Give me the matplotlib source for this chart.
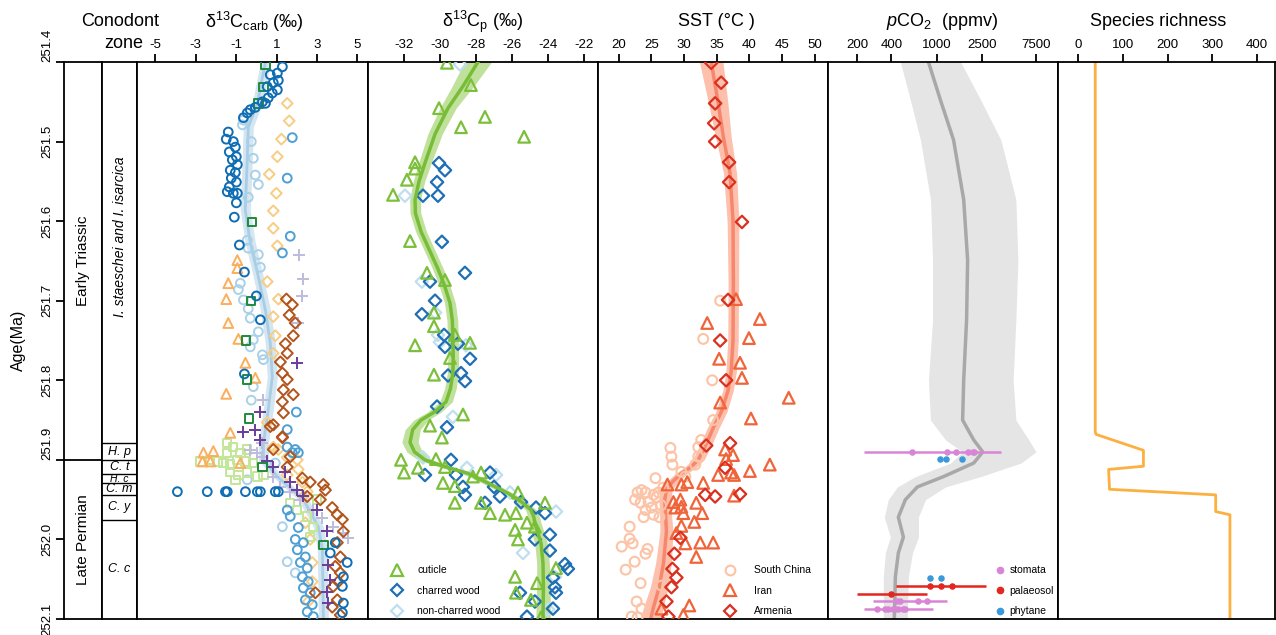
import numpy as np
import matplotlib.pyplot as plt
from matplotlib.lines import Line2D
from matplotlib.ticker import NullLocator

plt.rcParams['font.family'] = ['Liberation Sans', 'DejaVu Sans']
plt.rcParams['mathtext.fontset'] = 'custom'
plt.rcParams['mathtext.rm'] = 'Liberation Sans'
plt.rcParams['mathtext.it'] = 'Liberation Sans:italic'
plt.rcParams['axes.unicode_minus'] = False

# ---------------- data ----------------
age_ticks = [251.4, 251.5, 251.6, 251.7, 251.8, 251.9, 252.0, 252.1]

zone_bounds = [251.879, 251.9, 251.918, 251.929, 251.944, 251.975, 252.1]
zone_names = ['H. p', 'C. t', 'H. c', 'C. m', 'C. y', 'C. c']

# d13C carb
cb_dkblue_val = [1.29, 1.04, 0.69, 1.09, 0.84, 0.54, 1.04, 0.79, 0.59, 0.30, 0.45, -0.05, -0.30, -0.45, -0.64,
                 -1.39, -1.49, -1.14, -1.04, -1.34, -0.99, -1.19, -0.94, -1.29, -1.04, -1.24, -0.99, -1.34, -1.44,
                 -1.14, -0.94, -0.99, -1.09, -0.84, -0.59, 0.0, 0.20, -0.59,
                 -3.91, -2.43, -1.53, -1.44, -0.54, 0.05, 0.20, 0.94, 1.09,
                 4.50, 4.31, 4.26, 4.31, 4.26, 3.91, 3.66]
cb_dkblue_age = [251.406, 251.414, 251.416, 251.423, 251.426, 251.431, 251.435, 251.439, 251.445, 251.450, 251.452,
                 251.457, 251.460, 251.464, 251.470,
                 251.488, 251.497, 251.500, 251.507, 251.513, 251.519, 251.523, 251.529, 251.536, 251.539, 251.546,
                 251.551, 251.557, 251.563, 251.565, 251.565, 251.577, 251.595, 251.630, 251.664, 251.694, 251.724,
                 251.792,
                 251.940, 251.940, 251.940, 251.940, 251.940, 251.940, 251.940, 251.940, 251.940,
                 252.029, 252.047, 252.059, 252.080, 252.092, 252.004, 252.017]
cb_mdblue_val = [2.08, 1.93, 2.33, 2.03, 2.43, 2.18, 2.52, 2.28, 2.57, 2.33, 2.67, 2.43, 2.77, 2.52, 2.82, 1.68,
                 1.53, 1.53, 1.93, 2.08, 1.78, 1.98, 1.53, 1.78, 1.53, 1.68, 1.29]
cb_mdblue_age = [251.985, 252.000, 252.004, 252.013, 252.022, 252.029, 252.036, 252.047, 252.053, 252.061, 252.067,
                 252.076, 252.082, 252.091, 252.097, 251.971, 251.963, 251.884, 251.887, 251.891, 251.891, 251.840,
                 251.862, 251.495, 251.546, 251.619, 251.640]
cb_ltblue_val = [-0.64, -0.69, -0.25, -0.15, -0.05, 0.10, -0.40, -0.45, -0.40, 0.10, 0.20, -0.79, -0.89, -0.64,
                 -0.40, -0.30, 0.10, -0.15, -0.30, 0.30, 0.35, -0.15, -0.25, 1.29, 1.53, 1.93, 0.94, -0.45]
cb_ltblue_age = [251.473, 251.479, 251.500, 251.521, 251.542, 251.554, 251.570, 251.624, 251.634, 251.642, 251.658,
                 251.678, 251.686, 251.699, 251.710, 251.722, 251.739, 251.749, 251.758, 251.768, 251.774, 251.808,
                 251.825, 251.984, 252.028, 252.042, 251.904, 251.925]
cb_dkgreen_val = [0.45, 0.35, 0.10, -0.20, -0.25, -0.50, -0.45, -0.35, 3.32, 0.30]
cb_dkgreen_age = [251.403, 251.431, 251.452, 251.601, 251.700, 251.750, 251.799, 251.848, 252.007, 251.909]
cb_ltgreen_val = [-1.44, -1.14, -1.44, -0.79, -0.45, -2.77, -2.28, -1.93, -1.63, -1.29, -0.94, -0.54, -0.15, -1.29,
                  -0.89, -0.45, 0.05, -1.04, 0.35, 1.68, 2.03, 2.52, 2.82, 2.67, 3.02]
cb_ltgreen_age = [251.879, 251.884, 251.891, 251.891, 251.887, 251.902, 251.900, 251.902, 251.904, 251.906, 251.900,
                  251.902, 251.904, 251.915, 251.919, 251.916, 251.921, 251.925, 251.919, 251.954, 251.963, 251.971,
                  251.984, 251.997, 251.950]
cb_orange_val = [-0.94, -0.94, -1.39, -1.49, -1.39, -0.89, -0.54, -0.05, -1.49, -1.29, -2.62, -2.13, -2.67, -2.28,
                 -0.79]
cb_orange_age = [251.649, 251.659, 251.678, 251.698, 251.728, 251.748, 251.778, 251.797, 251.817, 251.866, 251.891,
                 251.889, 251.902, 251.902, 251.904]
cb_ltorange_val = [1.53, 1.63, 1.24, 1.04, 0.64, 0.99, 0.84, 0.84, 1.04, 0.54, 1.09, 0.84, 0.94, 0.84, 0.54, 0.84,
                   1.09, 1.53, 2.03, 2.08, 1.53, 2.28, 2.52, 2.33, 2.43, 2.67, 2.77, 2.77, 2.57]
cb_ltorange_age = [251.452, 251.474, 251.497, 251.519, 251.541, 251.565, 251.587, 251.609, 251.631, 251.676, 251.698,
                   251.720, 251.744, 251.766, 251.853, 251.884, 251.887, 251.897, 251.900, 251.912, 251.919, 251.928,
                   251.940, 251.946, 251.979, 252.000, 252.029, 252.053, 252.078]
cb_brown_val = [1.49, 1.78, 1.63, 1.93, 1.83, 1.44, 1.53, 1.19, 1.29, 1.53, 1.34, 1.83, 1.29, 1.34, 0.84, 1.29, 0.69,
                1.29, 0.84, 1.68, 1.53, 2.28, 2.67, 3.32, 3.42, 2.52, 3.17, 3.76, 4.01, 4.26, 4.31, 4.01, 4.16, 3.91,
                4.16, 4.06, 3.81, 2.92, 4.01, 3.76, 4.16]
cb_brown_age = [251.698, 251.705, 251.718, 251.728, 251.744, 251.754, 251.766, 251.777, 251.791, 251.799, 251.812,
                251.818, 251.827, 251.841, 251.856, 251.871, 251.858, 251.872, 251.887, 251.896, 251.909, 251.923,
                251.928, 251.931, 251.938, 251.946, 251.950, 251.960, 251.969, 251.975, 251.990, 252.004, 252.022,
                252.034, 252.042, 252.053, 252.059, 252.067, 252.076, 252.085, 252.095]
cb_purple_val = [2.03, -0.64, 0.20, 0.20, -0.05, 0.54, 0.84, 1.44, 1.68, 2.03, 2.33, 3.02, 3.51, 3.56, 3.66, 3.51, 3.56]
cb_purple_age = [251.778, 251.865, 251.840, 251.875, 251.862, 251.902, 251.909, 251.915, 251.928, 251.938, 251.946,
                 251.963, 251.990, 252.032, 252.051, 252.066, 252.080]
cb_ltpurple_val = [2.13, 2.33, 2.28, 2.08, 0.35, 0.30, -0.30, 0.05, 0.30, 0.84, 1.19, 1.68, 2.18, 2.82, 3.27, 3.81,
                   4.55, 4.31]
cb_ltpurple_age = [251.642, 251.673, 251.694, 251.728, 251.825, 251.879, 251.887, 251.891, 251.897, 251.921, 251.934,
                   251.940, 251.950, 251.963, 251.973, 251.984, 251.998, 251.992]
cb_fit_age = [251.400, 251.452, 251.482, 251.523, 251.586, 251.627, 251.670, 251.712, 251.753, 251.796, 251.837,
              251.879, 251.900, 251.921, 251.950, 251.984, 252.013, 252.100]
cb_fit_val = [0.45, 0.05, -0.40, -0.45, -0.55, -0.30, 0.10, 0.45, 0.69, 0.79, 0.59, 0.35, 0.35, 1.04, 2.33, 3.07,
              3.27, 3.32]
cb_fit_err = [0.25] * 18

# d13C plant
cut_val = [-29.60, -28.27, -30.04, -27.49, -28.82, -25.32, -31.37, -31.37, -31.82, -32.59, -31.65, -30.71, -29.71,
           -30.32, -30.32, -29.16, -31.37, -28.32, -29.43, -30.32, -28.71, -30.54, -29.88, -32.15, -31.98, -31.21,
           -30.21, -29.71, -29.82, -29.16, -29.16, -28.16, -27.71, -27.71, -27.21, -26.38, -25.66, -25.77, -24.16,
           -25.16, -25.82, -25.66, -24.72, -23.55, -25.82, -25.77, -24.60, -24.94, -24.38]
cut_age = [251.401, 251.429, 251.458, 251.469, 251.482, 251.494, 251.526, 251.534, 251.548, 251.567, 251.625, 251.665,
           251.674, 251.715, 251.732, 251.743, 251.756, 251.753, 251.772, 251.793, 251.843, 251.857, 251.872, 251.900,
           251.916, 251.910, 251.899, 251.909, 251.929, 251.933, 251.954, 251.921, 251.916, 251.954, 251.967, 251.969,
           251.941, 251.967, 251.954, 251.979, 251.988, 252.000, 251.984, 252.036, 252.047, 252.067, 252.055, 252.076,
           252.098]
char_val = [-30.04, -29.71, -30.15, -30.93, -30.10, -29.88, -28.60, -30.54, -30.26, -30.99, -29.76, -29.71, -28.99,
            -28.32, -29.54, -28.82, -28.60, -30.15, -29.60, -29.38, -30.82, -29.10, -28.71, -28.60, -27.21, -26.99,
            -27.49, -26.66, -25.49, -24.66, -24.16, -23.89, -24.72, -23.89, -23.05, -22.89, -23.72, -23.61, -23.55,
            -25.55, -24.72, -23.72, -25.16]
char_age = [251.527, 251.536, 251.551, 251.568, 251.568, 251.626, 251.665, 251.676, 251.700, 251.717, 251.743, 251.758,
            251.754, 251.773, 251.794, 251.791, 251.801, 251.833, 251.859, 251.900, 251.919, 251.919, 251.934, 251.944,
            251.916, 251.934, 251.954, 251.946, 251.953, 251.960, 251.967, 251.994, 252.000, 252.014, 252.031, 252.037,
            252.048, 252.060, 252.067, 252.067, 252.078, 252.087, 252.097]
nonchar_val = [-28.88, -31.93, -30.99, -30.26, -30.10, -29.99, -28.54, -29.27, -30.93, -28.49, -26.88, -26.10, -25.49,
               -23.55, -25.38, -23.61, -23.99]
nonchar_age = [251.403, 251.568, 251.676, 251.715, 251.743, 251.752, 251.756, 251.846, 251.897, 251.910, 251.919,
               251.941, 251.954, 251.965, 252.017, 252.047, 252.088]
cp_fit_age = [251.400, 251.430, 251.458, 251.490, 251.527, 251.550, 251.573, 251.590, 251.613, 251.635, 251.660,
              251.680, 251.703, 251.725, 251.750, 251.770, 251.790, 251.810, 251.827, 251.840, 251.850, 251.862,
              251.878, 251.890, 251.900, 251.908, 251.917, 251.930, 251.942, 251.953, 251.963, 251.972, 251.980,
              251.992, 252.005, 252.030, 252.060, 252.100]
cp_fit_val = [-27.88, -28.70, -29.54, -30.25, -30.82, -31.15, -31.37, -31.35, -31.04, -30.60, -30.10, -29.75, -29.43,
              -29.30, -29.27, -29.25, -29.27, -29.40, -29.65, -30.30, -31.04, -31.50, -31.65, -31.40, -30.82, -29.80,
              -28.43, -27.25, -26.21, -25.45, -24.94, -24.78, -24.72, -24.55, -24.38, -24.27, -24.25, -24.27]
cp_fit_err = [0.75, 0.6, 0.45, 0.4, 0.35, 0.32, 0.3, 0.3, 0.3, 0.3, 0.3, 0.3, 0.3, 0.3, 0.3, 0.3, 0.3, 0.32, 0.35,
              0.38, 0.4, 0.42, 0.45, 0.43, 0.4, 0.38, 0.35, 0.32, 0.3, 0.3, 0.3, 0.32, 0.35, 0.35, 0.35, 0.35, 0.38,
              0.4]

# SST
arm_val = [34.16, 35.68, 34.76, 34.61, 34.76, 36.90, 36.90, 38.87, 36.74, 35.53, 36.44, 33.40, 37.05, 36.29, 33.24,
           34.76, 38.57, 29.44, 28.52, 28.22, 28.83, 28.07, 27.31, 27.61]
arm_age = [251.401, 251.426, 251.452, 251.477, 251.500, 251.526, 251.551, 251.601, 251.699, 251.750, 251.800, 251.882,
           251.879, 251.910, 251.944, 251.946, 251.943, 251.998, 252.018, 252.037, 252.048, 252.060, 252.078, 252.097]
iran_val = [37.96, 33.55, 41.61, 39.94, 35.37, 38.57, 38.87, 35.53, 46.03, 40.24, 36.29, 37.50, 36.44, 40.09, 43.13,
            35.22, 37.20, 37.66, 32.94, 30.50, 27.46, 29.59, 37.66, 29.44, 28.37, 29.59, 31.87, 29.89, 32.79, 28.68,
            31.57, 29.59, 28.83, 30.20, 32.48, 34.46, 31.87, 30.81, 29.89, 26.54]
iran_age = [251.698, 251.728, 251.723, 251.747, 251.773, 251.778, 251.797, 251.828, 251.822, 251.848, 251.887, 251.894,
            251.899, 251.914, 251.906, 251.919, 251.916, 251.919, 251.929, 251.928, 251.931, 251.931, 251.945, 251.950,
            251.953, 251.959, 251.954, 251.967, 251.967, 251.960, 251.978, 251.983, 251.992, 252.005, 252.004, 252.004,
            252.022, 252.083, 252.095, 252.087]
sc_val = [35.53, 32.94, 34.31, 34.46, 32.63, 32.18, 27.91, 28.07, 32.18, 31.72, 28.22, 29.59, 25.63, 30.20, 22.89,
          24.11, 25.33, 26.09, 23.35, 24.57, 24.11, 25.02, 23.81, 25.33, 26.24, 21.67, 21.67, 20.46, 22.13, 24.41,
          24.11, 22.44, 21.07, 23.35, 26.54, 22.74, 23.50, 21.98, 22.89, 23.50, 25.80, 22.50, 26.50, 26.80]
sc_age = [251.700, 251.748, 251.800, 251.850, 251.875, 251.884, 251.885, 251.896, 251.896, 251.906, 251.906, 251.915,
          251.923, 251.921, 251.941, 251.941, 251.944, 251.941, 251.954, 251.953, 251.963, 251.960, 251.972, 251.969,
          251.972, 251.984, 251.999, 252.009, 252.005, 252.012, 252.018, 252.028, 252.038, 252.055, 252.058, 252.078,
          252.087, 252.097, 252.098, 251.938, 251.947, 251.950, 251.957, 251.935]
sst_fit_age = [251.400, 251.450, 251.493, 251.540, 251.600, 251.680, 251.750, 251.790, 251.813, 251.840, 251.860,
               251.880, 251.900, 251.910, 251.917, 251.927, 251.937, 251.950, 251.966, 251.990, 252.030, 252.060,
               252.085, 252.100]
sst_fit_val = [34.16, 35.20, 36.00, 37.05, 37.50, 37.55, 37.50, 37.20, 36.74, 35.70, 34.46, 33.40, 32.18, 30.90,
               29.59, 28.30, 27.31, 27.05, 27.15, 27.31, 26.85, 26.20, 25.33, 24.90]
sst_fit_err = [1.8, 1.5, 1.2, 1.0, 0.9, 0.8, 0.8, 0.8, 0.8, 0.85, 0.9, 0.9, 0.9, 0.9, 0.9, 0.9, 0.9, 0.9, 0.9, 1.0,
               1.2, 1.35, 1.5, 1.6]

# pCO2
co2_age = [251.400, 251.448, 251.498, 251.573, 251.649, 251.724, 251.800, 251.850, 251.875, 251.890, 251.904,
           251.921, 251.934, 251.950, 251.972, 251.997, 252.017, 252.047, 252.100]
co2_mid = [849, 1084, 1413, 1735, 1879, 1840, 1735, 1698, 2127, 2555, 2127, 1154, 679, 532, 461, 511, 461, 434, 425]
co2_lo = [480, 589, 722, 885, 923, 923, 849, 885, 1202, 1698, 1330, 652, 452, 376, 347, 392, 354, 340, 340]
co2_hi = [1632, 2455, 3690, 5000, 5210, 5000, 4730, 5000, 6510, 7520, 5540, 2455, 1202, 800, 693, 693, 614, 565, 553]

stom_age = [251.890, 252.078, 252.088]
stom_lo = [231, 277, 231]
stom_hi = [3690, 1227, 923]
stom_pts = [[614, 1227, 1473, 1879, 2083, 2127],
            [452, 480, 693, 817],
            [301, 354, 376, 410, 434, 461, 502, 532]]
pal_age = [252.058, 252.068]
pal_lo = [443, 200]
pal_hi = [2716, 817]
pal_pts = [[885, 1106, 1358], [400]]
phy_age = [251.899, 251.899, 251.899, 252.048, 252.048]
phy_val = [1064, 1202, 1663, 885, 1106]

# species richness
rich_age = [251.4, 251.865, 251.868, 251.888, 251.908, 251.912, 251.937, 251.944, 251.965, 251.969, 252.1]
rich_val = [38, 38, 40, 146, 146, 68, 70, 308, 308, 340, 340]

# ---------------- layout ----------------
W, H = 1276, 635
TOP, BOT = 62, 619
fig = plt.figure(figsize=(W / 100, H / 100), dpi=100)


def add_col(x0, x1):
    ax = fig.add_axes([x0 / W, 1 - BOT / H, (x1 - x0) / W, (BOT - TOP) / H])
    ax.set_ylim(252.1, 251.4)
    ax.set_yticks([])
    for sp in ax.spines.values():
        sp.set_linewidth(1.3)
    return ax


def add_panel(x0, x1, xlim, ticks, labels=None):
    ax = add_col(x0, x1)
    ax.set_xlim(*xlim)
    ax.xaxis.tick_top()
    ax.set_xticks(ticks)
    if labels is not None:
        ax.set_xticklabels(labels)
    ax.xaxis.set_minor_locator(NullLocator())
    ax.tick_params(axis='x', direction='out', length=6, width=1.3, labelsize=9.5, pad=2)
    return ax


def hollow(ax, x, y, marker, color, s, lw=1.4, z=3):
    if marker == '+':
        ax.scatter(x, y, s=s, marker=marker, color=color, linewidths=lw, zorder=z)
    else:
        ax.scatter(x, y, s=s, marker=marker, facecolors='none', edgecolors=color, linewidths=lw, zorder=z)


def ftext(x, y, s, **kw):
    fig.text(x / W, 1 - y / H, s, ha='center', va='center', **kw)


# period column with age axis
ax_per = add_col(64, 102)
ax_per.set_xticks([])
ax_per.set_yticks(age_ticks)
ax_per.set_yticklabels([f'{a:.1f}' for a in age_ticks], rotation=90, fontsize=9.5, va='center')
ax_per.tick_params(axis='y', direction='out', length=6, width=1.3, pad=2)
for lab, a in zip(ax_per.get_yticklabels(), age_ticks):
    if a in (251.4, 251.9):
        lab.set_va('bottom')
ax_per.axhline(251.9, color='k', lw=1.3)
tr = ax_per.get_yaxis_transform()
ax_per.text(0.5, 251.65, 'Early Triassic', rotation=90, ha='center', va='center', fontsize=11, transform=tr)
ax_per.text(0.5, 252.0, 'Late Permian', rotation=90, ha='center', va='center', fontsize=11, transform=tr)

# conodont zone column
ax_zone = add_col(102, 137)
ax_zone.set_xticks([])
trz = ax_zone.get_yaxis_transform()
ax_zone.text(0.5, 251.62, 'I. staeschei and I. isarcica', rotation=90, ha='center', va='center', fontsize=10,
             style='italic', transform=trz)
for b in zone_bounds[:-1]:
    ax_zone.axhline(b, color='k', lw=1.0)
for i, name in enumerate(zone_names):
    mid = (zone_bounds[i] + zone_bounds[i + 1]) / 2
    fs = 7.5 if name == 'H. c' else 9
    ax_zone.text(0.5, mid, name, ha='center', va='center', fontsize=fs, style='italic', transform=trz)

# d13C carb panel
ax1 = add_panel(137, 368, (-5.91, 5.53), [-5, -3, -1, 1, 3, 5])
fa = np.array(cb_fit_age)
fv = np.array(cb_fit_val)
fe = np.array(cb_fit_err)
ax1.fill_betweenx(fa, fv - fe, fv + fe, color='#d3e6f2', lw=0, zorder=1)
ax1.plot(fv, fa, color='#a9cde4', lw=2, zorder=2)
hollow(ax1, cb_ltblue_val, cb_ltblue_age, 'o', '#a9d1e8', 40)
hollow(ax1, cb_ltorange_val, cb_ltorange_age, 'D', '#f7cd84', 30)
hollow(ax1, cb_ltgreen_val, cb_ltgreen_age, 's', '#c3e69a', 36)
hollow(ax1, cb_orange_val, cb_orange_age, '^', '#fbae5c', 50)
hollow(ax1, cb_ltpurple_val, cb_ltpurple_age, '+', '#bdbcdd', 80)
hollow(ax1, cb_mdblue_val, cb_mdblue_age, 'o', '#4d9fd5', 40)
hollow(ax1, cb_brown_val, cb_brown_age, 'D', '#b2541c', 32)
hollow(ax1, cb_purple_val, cb_purple_age, '+', '#6a3d9a', 80)
hollow(ax1, cb_dkgreen_val, cb_dkgreen_age, 's', '#1f8a3c', 36)
hollow(ax1, cb_dkblue_val, cb_dkblue_age, 'o', '#0f6db3', 40)

# d13C plant panel
ax2 = add_panel(368, 598, (-33.98, -21.22), [-32, -30, -28, -26, -24, -22])
fa = np.array(cp_fit_age)
fv = np.array(cp_fit_val)
fe = np.array(cp_fit_err)
ax2.fill_betweenx(fa, fv - fe, fv + fe, color='#c0e19b', lw=0, zorder=1)
hollow(ax2, nonchar_val, nonchar_age, 'D', '#bfdff0', 40, lw=1.6)
hollow(ax2, char_val, char_age, 'D', '#1f6fb5', 40, lw=1.6)
hollow(ax2, cut_val, cut_age, '^', '#7cbf3a', 70, lw=1.6)
ax2.plot(fv, fa, color='#78bd38', lw=2.5, zorder=4)
h2 = [Line2D([], [], ls='none', marker='^', ms=8.5, mfc='none', mec='#7cbf3a', mew=1.6, label='cuticle'),
      Line2D([], [], ls='none', marker='D', ms=6.5, mfc='none', mec='#1f6fb5', mew=1.6, label='charred wood'),
      Line2D([], [], ls='none', marker='D', ms=6.5, mfc='none', mec='#bfdff0', mew=1.6, label='non-charred wood')]
ax2.legend(handles=h2, loc='lower left', bbox_to_anchor=(0.105, 0.005), frameon=False, fontsize=7.5,
           handlelength=1.0, handletextpad=1.4, labelspacing=1.0, borderpad=0, borderaxespad=0)

# SST panel
ax3 = add_panel(598, 828, (16.83, 52.04), [20, 25, 30, 35, 40, 45, 50])
fa = np.array(sst_fit_age)
fv = np.array(sst_fit_val)
fe = np.array(sst_fit_err)
ax3.fill_betweenx(fa, fv - fe, fv + fe, color='#fcc0ac', lw=0, zorder=1)
hollow(ax3, sc_val, sc_age, 'o', '#fcc3a6', 50, lw=1.5)
ax3.plot(fv, fa, color='#f7876c', lw=2.5, zorder=2)
hollow(ax3, iran_val, iran_age, '^', '#f0643a', 70, lw=1.6)
hollow(ax3, arm_val, arm_age, 'D', '#d9301f', 40, lw=1.6)
h3 = [Line2D([], [], ls='none', marker='o', ms=7, mfc='none', mec='#fcc3a6', mew=1.5, label='South China'),
      Line2D([], [], ls='none', marker='^', ms=8.5, mfc='none', mec='#f0643a', mew=1.6, label='Iran'),
      Line2D([], [], ls='none', marker='D', ms=6.5, mfc='none', mec='#d9301f', mew=1.6, label='Armenia')]
ax3.legend(handles=h3, loc='lower left', bbox_to_anchor=(0.553, 0.005), frameon=False, fontsize=7.5,
           handlelength=1.0, handletextpad=1.8, labelspacing=1.0, borderpad=0, borderaxespad=0)

# pCO2 panel
ax4 = add_col(828, 1058)
ax4.set_xscale('log')
ax4.set_xlim(110.7, 11750)
ax4.xaxis.tick_top()
ax4.set_xticks([200, 400, 1000, 2500, 7500])
ax4.set_xticklabels(['200', '400', '1000', '2500', '7500'])
ax4.xaxis.set_minor_locator(NullLocator())
ax4.tick_params(axis='x', direction='out', length=6, width=1.3, labelsize=9.5, pad=2)
ax4.fill_betweenx(co2_age, co2_lo, co2_hi, color='#e5e5e6', lw=0, zorder=1)
ax4.plot(co2_mid, co2_age, color='#a8a8a8', lw=2.5, zorder=2)
for a, lo, hi, pts in zip(stom_age, stom_lo, stom_hi, stom_pts):
    ax4.hlines(a, lo, hi, color='#d985d6', lw=1.8, zorder=3)
    ax4.scatter(pts, [a] * len(pts), s=22, color='#d985d6', zorder=4, lw=0)
for a, lo, hi, pts in zip(pal_age, pal_lo, pal_hi, pal_pts):
    ax4.hlines(a, lo, hi, color='#e3261f', lw=1.8, zorder=3)
    ax4.scatter(pts, [a] * len(pts), s=22, color='#e3261f', zorder=4, lw=0)
ax4.scatter(phy_val, phy_age, s=22, color='#3a9ad9', zorder=4, lw=0)
h4 = [Line2D([], [], ls='none', marker='o', ms=4.5, color='#d985d6', label='stomata'),
      Line2D([], [], ls='none', marker='o', ms=4.5, color='#e3261f', label='palaeosol'),
      Line2D([], [], ls='none', marker='o', ms=4.5, color='#3a9ad9', label='phytane')]
ax4.legend(handles=h4, loc='lower left', bbox_to_anchor=(0.735, 0.005), frameon=False, fontsize=7.5,
           handlelength=0.6, handletextpad=0.6, labelspacing=1.0, borderpad=0, borderaxespad=0)

# species richness panel
ax5 = add_panel(1058, 1275, (-45.5, 441), [0, 100, 200, 300, 400])
ax5.plot(rich_val, rich_age, color='#fbb040', lw=2, zorder=2)

# headers
ftext(120, 22, 'Conodont', fontsize=13)
ftext(124, 43, 'zone', fontsize=13)
ftext(254, 22, r'δ$^{13}$C$_{\rm carb}$ (‰)', fontsize=13)
ftext(483, 22, r'δ$^{13}$C$_{\rm p}$ (‰)', fontsize=13)
ftext(716, 22, 'SST (°C )', fontsize=13)
ftext(942, 22, r'$p$CO$_2$  (ppmv)', fontsize=13)
ftext(1158, 22, 'Species richness', fontsize=13)
ftext(18, 340, 'Age(Ma)', fontsize=11.5, rotation=90)

fig.savefig('out.png', dpi=100)
